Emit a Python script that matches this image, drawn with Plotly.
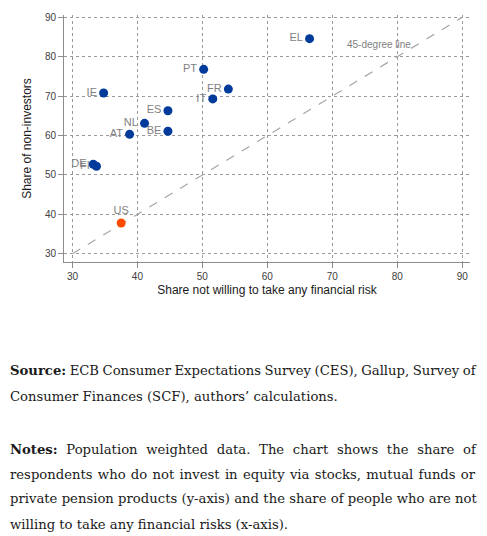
import plotly.graph_objects as go

# Euro area countries
countries = ["EL", "PT", "FR", "IT", "IE", "ES", "NL", "BE", "AT", "DE", "FI"]
no_risk = [66.5, 50.2, 54.0, 51.6, 34.8, 44.7, 41.1, 44.7, 38.8, 33.2, 33.7]
non_investors = [84.6, 76.8, 71.8, 69.3, 70.8, 66.3, 63.1, 61.1, 60.3, 52.7, 52.2]

# United States
us_label = ["US"]
us_no_risk = [37.5]
us_non_investors = [37.8]

diag = [30, 90]
ticks = [30, 40, 50, 60, 70, 80, 90]

source_lines = [
    "<b>Source:</b> ECB Consumer Expectations Survey (CES), Gallup, Survey of",
    "Consumer Finances (SCF), authors’ calculations.",
]
notes_lines = [
    "<b>Notes:</b> Population weighted data. The chart shows the share of",
    "respondents who do not invest in equity via stocks, mutual funds or",
    "private pension products (y-axis) and the share of people who are not",
    "willing to take any financial risks (x-axis).",
]
# extra space between words to get the justified look of the paragraphs
word_gap = [-0.7, 0, 4.5, 1.1, 0.1, 0]

BLUE = "#003a9b"
ORANGE = "#ff4b00"
GREY = "#7f7f7f"

fig = go.Figure()

fig.add_trace(go.Scatter(
    x=diag, y=diag, mode="lines",
    line=dict(color="#a6a6a6", width=1.2, dash="dash"),
    hoverinfo="skip", showlegend=False,
))
fig.add_trace(go.Scatter(
    x=no_risk, y=non_investors, mode="markers+text",
    text=countries, textposition="middle left",
    textfont=dict(family="Arial, Liberation Sans", size=11, color=GREY),
    marker=dict(color=BLUE, size=9),
    showlegend=False,
))
fig.add_trace(go.Scatter(
    x=us_no_risk, y=us_non_investors, mode="markers+text",
    text=us_label, textposition="top center",
    textfont=dict(family="Arial, Liberation Sans", size=11, color=GREY),
    marker=dict(color=ORANGE, size=9),
    showlegend=False,
))

fig.add_annotation(
    x=77.2, y=83, text="45-degree line", showarrow=False,
    font=dict(family="Arial, Liberation Sans", size=10, color=GREY),
)

axis_common = dict(
    tickvals=ticks,
    showgrid=True, gridcolor="#9a9a9a", griddash="dot", gridwidth=1,
    showline=True, linecolor="#8c8c8c", linewidth=1,
    ticks="outside", ticklen=5, tickcolor="#8c8c8c",
    tickfont=dict(family="Arial, Liberation Sans", size=10, color="#404040"),
    zeroline=False, automargin=False,
)

fig.update_xaxes(
    range=[28.7, 91.2],
    title=dict(text="Share not willing to take any financial risk",
               font=dict(family="Arial, Liberation Sans", size=12, color="#1a1a1a"),
               standoff=4),
    **axis_common,
)
fig.update_yaxes(
    range=[27.9, 90.6],
    title=dict(text="Share of non-investors",
               font=dict(family="Arial, Liberation Sans", size=12, color="#1a1a1a"),
               standoff=10),
    **axis_common,
)

# the page adds an 8px margin round the figure
W, H = 479, 528
L, R, T, B = 56, 17, 7, 274
plot_w = W - L - R
plot_h = H - T - B
text_y = [362, 388, 441, 466, 491, 516]
for line, py, gap in zip(source_lines + notes_lines, text_y, word_gap):
    fig.add_annotation(
        xref="paper", yref="paper", x=-L / plot_w, xanchor="left",
        y=(H - B - py) / plot_h, yanchor="middle",
        text=f'<span style="word-spacing:{gap}px">{line}</span>',
        showarrow=False, align="left",
        font=dict(family="DejaVu Serif", size=13.2, color="#1a1a1a"),
    )

fig.update_layout(
    width=W, height=H,
    margin=dict(l=L, r=R, t=T, b=B, autoexpand=False),
    plot_bgcolor="white", paper_bgcolor="white",
)

fig.write_html("out.html")
